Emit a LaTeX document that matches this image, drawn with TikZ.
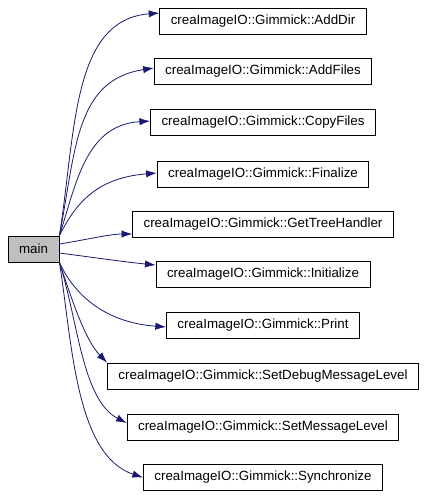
\documentclass[tikz,border=0pt]{standalone}
\usepackage{fontspec}
\setmainfont{Liberation Sans}
\usepackage{tikz}
\usetikzlibrary{arrows.meta}

\definecolor{edgeblue}{HTML}{191970}
\definecolor{maingray}{HTML}{BFBFBF}

\begin{document}
\begin{tikzpicture}[x=0.75pt,y=-0.75pt,
  fn/.style={draw,shape=rectangle,line width=0.6pt,minimum height=19.5pt,inner xsep=8.25pt,inner ysep=0pt,font=\fontsize{10}{12}\selectfont},
  call/.style={draw=edgeblue,line width=0.6pt,-{Latex[length=8pt,width=5.5pt]}}]
\useasboundingbox (0,0) rectangle (426,498);

\node (main) [fn,fill=maingray,minimum width=38.25pt] at (33.5,249) {main};

\node (adddir) [fn] at (263,21) {creaImageIO::Gimmick::AddDir};
\node (addfiles) [fn] at (263,71.5) {creaImageIO::Gimmick::AddFiles};
\node (copyfiles) [fn] at (263,122.5) {creaImageIO::Gimmick::CopyFiles};
\node (finalize) [fn] at (263,174) {creaImageIO::Gimmick::Finalize};
\node (gettree) [fn] at (263,224) {creaImageIO::Gimmick::GetTreeHandler};
\node (initialize) [fn] at (263,274.5) {creaImageIO::Gimmick::Initialize};
\node (print) [fn] at (263,325) {creaImageIO::Gimmick::Print};
\node (setdebug) [fn] at (263,376) {creaImageIO::Gimmick::SetDebugMessageLevel};
\node (setmsg) [fn] at (263,427) {creaImageIO::Gimmick::SetMessageLevel};
\node (sync) [fn] at (263,477.5) {creaImageIO::Gimmick::Synchronize};

\draw[call] (main.north east) .. controls (76,130) and (72,20) .. ([yshift=6pt]adddir.west);
\draw[call] (main.north east) .. controls (76,150) and (75,80) .. ([yshift=2.6pt]addfiles.west);
\draw[call] (main.north east) .. controls (76,185) and (85,125) .. ([yshift=1.1pt]copyfiles.west);
\draw[call] (main.north east) .. controls (75,205) and (95,178) .. ([yshift=0.75pt]finalize.west);
\draw[call] ([yshift=3.75pt]main.east) .. controls (85,240) and (110,234) .. ([yshift=-7.5pt]gettree.west);
\draw[call] ([yshift=-3pt]main.east) .. controls (90,257) and (125,262) .. ([yshift=7.1pt]initialize.west);
\draw[call] (main.south east) .. controls (72,290) and (100,322) .. ([yshift=-1.5pt]print.west);
\draw[call] (main.south east) .. controls (72,300) and (85,340) .. (setdebug.north west);
\draw[call] (main.south east) .. controls (78,320) and (82,400) .. ([yshift=3pt]setmsg.west);
\draw[call] (main.south east) .. controls (72,340) and (75,455) .. (sync.west);

\end{tikzpicture}
\end{document}
